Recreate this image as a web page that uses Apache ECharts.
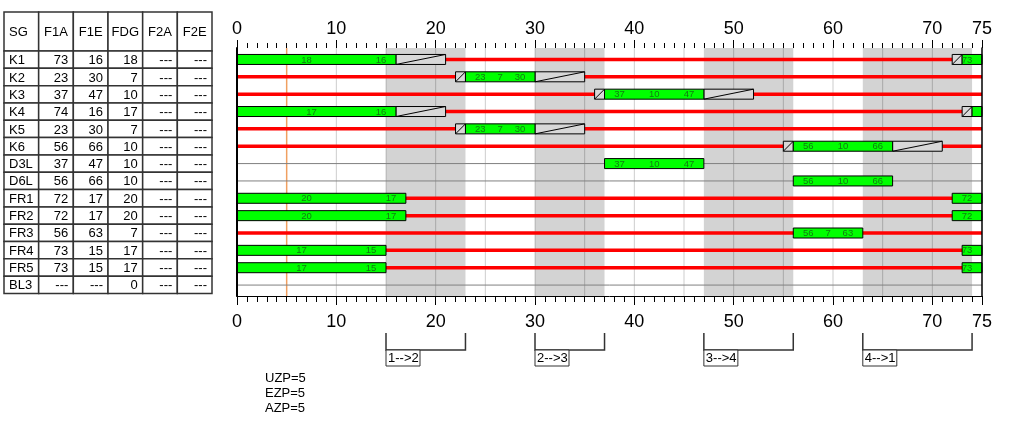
<!DOCTYPE html>
<html><head><meta charset="utf-8">
<script src="https://cdn.jsdelivr.net/npm/echarts@6/dist/echarts.min.js"></script>
<style>html,body{margin:0;padding:0;background:#fff}#c{width:1024px;height:438px}</style>
</head><body><div id="c"></div>
<script>
// ---------- data ----------
const signalGroups = ['K1','K2','K3','K4','K5','K6','D3L','D6L','FR1','FR2','FR3','FR4','FR5','BL3'];
const greenStart   = [73, 23, 37, 74, 23, 56, 37, 56, 72, 72, 56, 73, 73, null];
const greenEnd     = [16, 30, 47, 16, 30, 66, 47, 66, 17, 17, 63, 15, 15, null];
const greenDur     = [18,  7, 10, 17,  7, 10, 10, 10, 20, 20,  7, 17, 17, 0];
const f2Start      = ['---','---','---','---','---','---','---','---','---','---','---','---','---','---'];
const f2End        = ['---','---','---','---','---','---','---','---','---','---','---','---','---','---'];
const amberDur     = [5, 5, 5, 5, 5, 5, 0, 0, 0, 0, 0, 0, 0, 0];
const redAmberDur  = [1, 1, 1, 1, 1, 1, 0, 0, 0, 0, 0, 0, 0, 0];
const hasRed       = [1, 1, 1, 1, 1, 1, 0, 0, 1, 1, 1, 1, 1, 0];
const tableHeaders = ['SG','F1A','F1E','FDG','F2A','F2E'];
const phaseFrom    = [15, 30, 47, 63];
const phaseTo      = [23, 37, 56, 74];
const phaseNames   = ['1-->2','2-->3','3-->4','4-->1'];
const gridMarks    = [10, 15, 20, 25, 30, 35, 40, 45, 50, 55, 60, 65, 70];
const markerAt     = [5];
const notes        = ['UZP=5','EZP=5','AZP=5'];
const cycle = 75;

// ---------- layout ----------
const FONT = "'Liberation Sans', Arial, sans-serif";
const Y_MIN = -0.66, Y_MAX = 13.63;
const BAR_H = 10;

// ---------- derived marks ----------
const rowIdx = signalGroups.map((_, i) => i);
const greenSegs = [], boxSegs = [], labels = [];
rowIdx.forEach(i => {
  const s = greenStart[i], e = greenEnd[i];
  if (s === null) return;
  const wraps = e < s;
  if (wraps) { greenSegs.push([s, cycle, i]); greenSegs.push([0, e, i]); }
  else greenSegs.push([s, e, i]);
  const firstLen = wraps ? cycle - s : e - s;
  if (firstLen >= 2) labels.push([Math.min(s + 1.5, cycle - 1.5), i, String(s)]);
  let mid = (s + (wraps ? e + cycle : e)) / 2;
  if (mid >= cycle) mid -= cycle;
  labels.push([mid, i, String(greenDur[i])]);
  labels.push([e - 1.5, i, String(e)]);
  if (amberDur[i] > 0) boxSegs.push([e, e + amberDur[i], i]);
  if (redAmberDur[i] > 0) boxSegs.push([s - redAmberDur[i], s, i]);
});

const cellTexts = [], cellData = [], cellAlign = [];
rowIdx.forEach(r => {
  const vals = [signalGroups[r],
    greenStart[r] === null ? '---' : String(greenStart[r]),
    greenEnd[r] === null ? '---' : String(greenEnd[r]),
    String(greenDur[r]), f2Start[r], f2End[r]];
  vals.forEach((v, c) => { cellData.push([c, r]); cellTexts.push(v); cellAlign.push(c === 0 ? 'left' : 'right'); });
});

// ---------- render helpers ----------
function vLine(params, api) {
  const x = api.value(0);
  const a = api.coord([x, Y_MIN]), b = api.coord([x, Y_MAX]);
  return { type: 'line', shape: { x1: a[0], y1: a[1], x2: b[0], y2: b[1] },
    style: { stroke: 'rgba(0,0,0,0.2)', lineWidth: 1 } };
}
function rowLine(color, width) {
  return function (params, api) {
    const a = api.coord([api.value(0), api.value(2)]), b = api.coord([api.value(1), api.value(2)]);
    return { type: 'line', shape: { x1: a[0], y1: a[1], x2: b[0], y2: b[1] },
      style: { stroke: color, lineWidth: width } };
  };
}

const option = {
  animation: false,
  backgroundColor: '#fff',
  grid: [
    { left: 237, top: 48, width: 745, height: 248, outerBoundsMode: 'none', containLabel: false },
    { left: 4, top: 51, width: 208, height: 242.5, outerBoundsMode: 'none', containLabel: false }
  ],
  xAxis: [
    { gridIndex: 0, type: 'value', position: 'top', min: 0, max: cycle, interval: 10, z: 10,
      axisLine: { show: false, onZero: false }, axisTick: { show: true, length: 8, lineStyle: { color: '#000', width: 1 } },
      axisLabel: { fontSize: 18, color: '#000', margin: 10, fontFamily: FONT }, splitLine: { show: false } },
    { gridIndex: 0, type: 'value', position: 'top', min: 0, max: cycle, interval: 1, z: 10,
      axisLine: { show: false, onZero: false }, axisTick: { show: true, length: 5, lineStyle: { color: '#000', width: 1 } },
      axisLabel: { show: false }, splitLine: { show: false } },
    { gridIndex: 0, type: 'value', position: 'bottom', min: 0, max: cycle, interval: 10, z: 10,
      axisLine: { show: true, onZero: false, lineStyle: { color: '#000', width: 1 } },
      axisTick: { show: true, length: 9, lineStyle: { color: '#000', width: 1 } },
      axisLabel: { fontSize: 18, color: '#000', margin: 17, fontFamily: FONT }, splitLine: { show: false } },
    { gridIndex: 0, type: 'value', position: 'bottom', min: 0, max: cycle, interval: 1, z: 10,
      axisLine: { show: false, onZero: false }, axisTick: { show: true, length: 6, lineStyle: { color: '#000', width: 1 } },
      axisLabel: { show: false }, splitLine: { show: false } },
    { gridIndex: 1, type: 'category', data: tableHeaders, show: false }
  ],
  yAxis: [
    { gridIndex: 0, type: 'value', inverse: true, min: Y_MIN, max: Y_MAX, position: 'left', z: 10,
      axisLine: { show: true, onZero: false, lineStyle: { color: '#000', width: 2 } },
      axisTick: { show: false }, axisLabel: { show: false }, splitLine: { show: false } },
    { gridIndex: 0, type: 'value', inverse: true, min: Y_MIN, max: Y_MAX, position: 'right', z: 10,
      axisLine: { show: true, onZero: false, lineStyle: { color: '#000', width: 1.5 } },
      axisTick: { show: false }, axisLabel: { show: false }, splitLine: { show: false } },
    { gridIndex: 1, type: 'value', inverse: true, min: -0.5, max: 13.5, show: false }
  ],
  graphic: notes.map((t, i) => ({
    type: 'text', left: 265, top: 372 + i * 15, z: 20,
    style: { text: t, fontSize: 13, fontFamily: FONT, fill: '#000' }
  })),
  series: [
    { type: 'custom', name: 'phases', xAxisIndex: 0, yAxisIndex: 0, z: 1,
      data: phaseFrom.map((s, i) => [s, phaseTo[i]]),
      renderItem: (params, api) => {
        const a = api.coord([api.value(0), Y_MIN]), b = api.coord([api.value(1), Y_MAX]);
        return { type: 'rect', shape: { x: a[0], y: a[1], width: b[0] - a[0], height: b[1] - a[1] },
          style: { fill: '#d3d3d3' } };
      } },
    { type: 'custom', name: 'grid', xAxisIndex: 0, yAxisIndex: 0, z: 2,
      data: gridMarks.map(v => [v]), renderItem: vLine },
    { type: 'custom', name: 'marker', xAxisIndex: 0, yAxisIndex: 0, z: 3,
      data: markerAt.map(v => [v]),
      renderItem: (params, api) => {
        const x = api.value(0);
        const a = api.coord([x, Y_MIN]), b = api.coord([x, Y_MAX]);
        return { type: 'line', shape: { x1: a[0], y1: a[1], x2: b[0], y2: b[1] },
          style: { stroke: '#f0a060', lineWidth: 1.5 } };
      } },
    { type: 'custom', name: 'rows', xAxisIndex: 0, yAxisIndex: 0, z: 4,
      data: rowIdx.map(i => [0, cycle, i]), renderItem: rowLine('#808080', 1) },
    { type: 'custom', name: 'red', xAxisIndex: 0, yAxisIndex: 0, z: 5,
      data: rowIdx.filter(i => hasRed[i]).map(i => [0, cycle, i]), renderItem: rowLine('#ff0000', 3.5) },
    { type: 'custom', name: 'amber', xAxisIndex: 0, yAxisIndex: 0, z: 6,
      data: boxSegs,
      renderItem: (params, api) => {
        const r = api.value(2);
        const a = api.coord([api.value(0), r]), b = api.coord([api.value(1), r]);
        const yt = a[1] - BAR_H / 2, yb = a[1] + BAR_H / 2;
        return { type: 'group', children: [
          { type: 'rect', shape: { x: a[0], y: yt, width: b[0] - a[0], height: BAR_H },
            style: { fill: '#d8d8d8', stroke: '#000', lineWidth: 1 } },
          { type: 'line', shape: { x1: a[0], y1: yb, x2: b[0], y2: yt }, style: { stroke: '#000', lineWidth: 1 } }
        ] };
      } },
    { type: 'custom', name: 'green', xAxisIndex: 0, yAxisIndex: 0, z: 7,
      data: greenSegs,
      renderItem: (params, api) => {
        const r = api.value(2);
        const a = api.coord([api.value(0), r]), b = api.coord([api.value(1), r]);
        return { type: 'rect', shape: { x: a[0], y: a[1] - BAR_H / 2, width: b[0] - a[0], height: BAR_H },
          style: { fill: '#00ff00', stroke: '#000', lineWidth: 1 } };
      } },
    { type: 'custom', name: 'labels', xAxisIndex: 0, yAxisIndex: 0, z: 8,
      data: labels.map(l => [l[0], l[1]]),
      renderItem: (params, api) => {
        const p = api.coord([api.value(0), api.value(1)]);
        return { type: 'text', x: p[0], y: p[1] + 0.5,
          style: { text: labels[params.dataIndex][2], fontSize: 9.5, fontFamily: FONT, fill: '#127a12',
            align: 'center', verticalAlign: 'middle' } };
      } },
    { type: 'custom', name: 'brackets', xAxisIndex: 0, yAxisIndex: 0, z: 9, clip: false,
      data: phaseFrom.map((s, i) => [s, phaseTo[i]]),
      renderItem: (params, api) => {
        const a = api.coord([api.value(0), Y_MAX]), b = api.coord([api.value(1), Y_MAX]);
        const y0 = a[1] + 37, y1 = a[1] + 54;
        return { type: 'group', children: [
          { type: 'polyline', shape: { points: [[a[0], y0], [a[0], y1], [b[0], y1], [b[0], y0]] },
            style: { stroke: '#333', lineWidth: 1.5, fill: null } },
          { type: 'rect', shape: { x: a[0], y: y1, width: 34, height: 16 },
            style: { fill: '#fff', stroke: '#333', lineWidth: 1 } },
          { type: 'text', x: a[0] + 2, y: y1 + 8.5,
            style: { text: phaseNames[params.dataIndex], fontSize: 13, fontFamily: FONT, fill: '#000',
              align: 'left', verticalAlign: 'middle' } }
        ] };
      } },
    { type: 'custom', name: 'tableHead', xAxisIndex: 4, yAxisIndex: 2, z: 5, clip: false,
      data: tableHeaders.map((h, c) => [c, -0.5]),
      renderItem: (params, api) => {
        const c = api.value(0);
        const p = api.coord([c, -0.5]);
        const w = api.size([1, 0])[0];
        const h = 39;
        return { type: 'group', children: [
          { type: 'rect', shape: { x: p[0] - w / 2, y: p[1] - h, width: w, height: h },
            style: { fill: '#fff', stroke: '#333', lineWidth: 1.5 } },
          { type: 'text', x: c === 0 ? p[0] - w / 2 + 5 : p[0], y: p[1] - h / 2 + 1,
            style: { text: tableHeaders[c], fontSize: 13, fontFamily: FONT, fill: '#000',
              align: c === 0 ? 'left' : 'center', verticalAlign: 'middle' } }
        ] };
      } },
    { type: 'custom', name: 'tableCells', xAxisIndex: 4, yAxisIndex: 2, z: 5, clip: false,
      data: cellData,
      renderItem: (params, api) => {
        const c = api.value(0), r = api.value(1);
        const p = api.coord([c, r]);
        const w = api.size([1, 0])[0];
        const h = api.size([0, 1])[1];
        const left = cellAlign[params.dataIndex] === 'left';
        return { type: 'group', children: [
          { type: 'rect', shape: { x: p[0] - w / 2, y: p[1] - h / 2, width: w, height: h },
            style: { fill: '#fff', stroke: '#333', lineWidth: 1.5 } },
          { type: 'text', x: left ? p[0] - w / 2 + 5 : p[0] + w / 2 - 5, y: p[1] + 1,
            style: { text: cellTexts[params.dataIndex], fontSize: 13, fontFamily: FONT, fill: '#000',
              align: left ? 'left' : 'right', verticalAlign: 'middle' } }
        ] };
      } }
  ]
};
const chart = echarts.init(document.getElementById('c'), null, { renderer: 'canvas' });
chart.setOption(option);
</script></body></html>
